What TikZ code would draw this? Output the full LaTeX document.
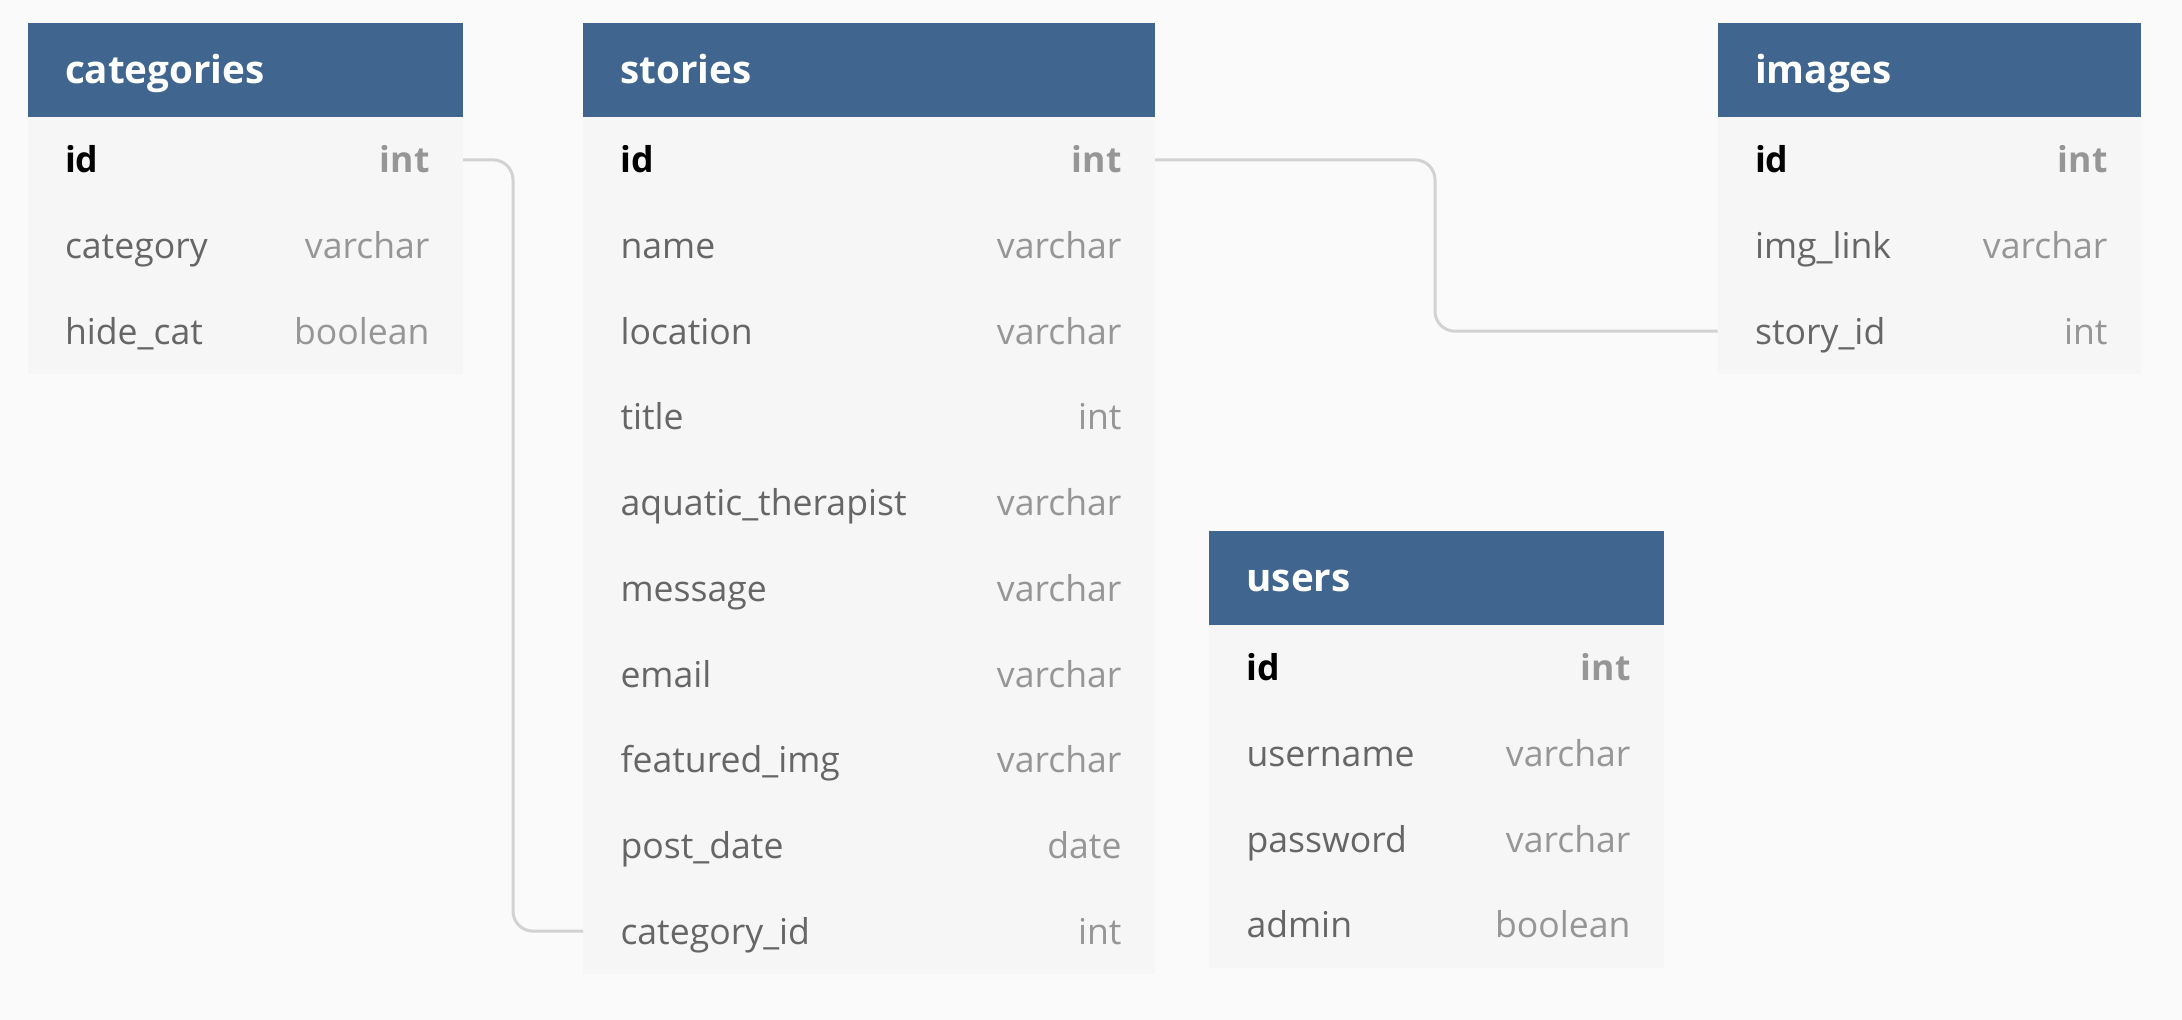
\documentclass[tikz,border=0pt]{standalone}
\usepackage{fontspec}
\setmainfont{Open Sans}
\usepackage{xcolor}
\usetikzlibrary{positioning}
\definecolor{hdblue}{RGB}{64,102,143}
\definecolor{rowgray}{RGB}{246,246,246}
\definecolor{bggray}{RGB}{250,250,250}
\definecolor{fldgray}{RGB}{102,102,102}
\definecolor{typgray}{RGB}{150,150,150}
\definecolor{linkgray}{RGB}{210,210,210}
\newcommand{\fld}[2]{{\color{fldgray}#1}\hfill{\color{typgray}#2}\kern-2pt}
\newcommand{\pk}[2]{{\bfseries\color{black}#1}\hfill{\bfseries\color{typgray}#2}\kern-2pt}
\tikzset{
  hdr/.style={fill=hdblue, text=white, font=\fontsize{19.3pt}{23pt}\selectfont\bfseries,
    minimum height=47pt, text height=18.2pt, text depth=4.8pt,
    inner xsep=18.75pt, inner ysep=0pt, outer sep=0pt},
  row/.style={fill=rowgray, font=\fontsize{17.8pt}{21pt}\selectfont,
    minimum height=42.85pt, text height=17pt, text depth=4pt,
    inner xsep=18.75pt, inner ysep=0pt, outer sep=0pt},
  link/.style={draw=linkgray, line width=1.5pt, rounded corners=10pt}
}

\begin{document}
\begin{tikzpicture}
   \fill[bggray] (0,0) rectangle (1091pt,-510pt);
   % categories
   \node[hdr, text width=180.25pt, anchor=north west] (cat-0) at (13.75pt,-11.5pt) {categories};
   \node[row, text width=180.25pt, below=0pt of cat-0] (cat-1) {\pk{id}{int}};
   \foreach \n/\t [count=\i from 2, remember=\i as \p (initially 1)] in {category/varchar, hide\_cat/boolean}
     \node[row, text width=180.25pt, below=0pt of cat-\p] (cat-\i) {\fld{\n}{\t}};
   % stories
   \node[hdr, text width=248.5pt, anchor=north west] (st-0) at (291.5pt,-11.5pt) {stories};
   \node[row, text width=248.5pt, below=0pt of st-0] (st-1) {\pk{id}{int}};
   \foreach \n/\t [count=\i from 2, remember=\i as \p (initially 1)] in {name/varchar, location/varchar, title/int, aquatic\_therapist/varchar, message/varchar, email/varchar, featured\_img/varchar, post\_date/date, category\_id/int}
     \node[row, text width=248.5pt, below=0pt of st-\p] (st-\i) {\fld{\n}{\t}};
   % images
   \node[hdr, text width=174.25pt, anchor=north west] (im-0) at (858.75pt,-11.5pt) {images};
   \node[row, text width=174.25pt, below=0pt of im-0] (im-1) {\pk{id}{int}};
   \foreach \n/\t [count=\i from 2, remember=\i as \p (initially 1)] in {img\_link/varchar, story\_id/int}
     \node[row, text width=174.25pt, below=0pt of im-\p] (im-\i) {\fld{\n}{\t}};
   % users
   \node[hdr, text width=190pt, anchor=north west] (us-0) at (604.5pt,-265.5pt) {users};
   \node[row, text width=190pt, below=0pt of us-0] (us-1) {\pk{id}{int}};
   \foreach \n/\t [count=\i from 2, remember=\i as \p (initially 1)] in {username/varchar, password/varchar, admin/boolean}
     \node[row, text width=190pt, below=0pt of us-\p] (us-\i) {\fld{\n}{\t}};
   % refs
   \draw[link] (cat-1.east) -- ++(25pt,0) |- (st-10.west);
   \draw[link] (st-1.east) -- ++(140pt,0) |- (im-3.west);
\end{tikzpicture}
\end{document}
